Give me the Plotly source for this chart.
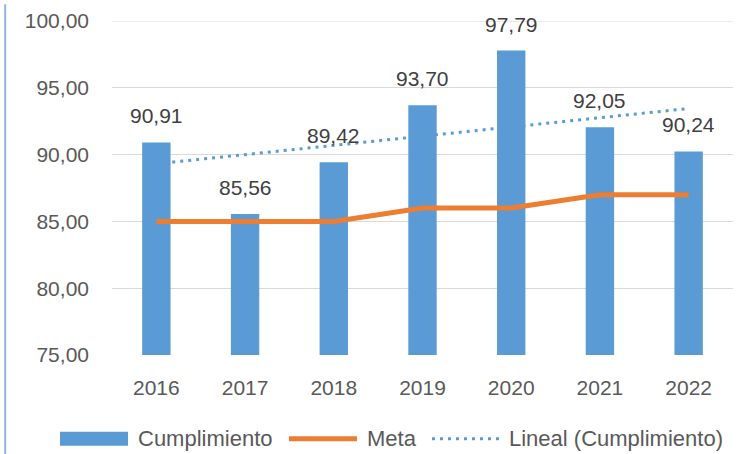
import plotly.graph_objects as go

years = ["2016", "2017", "2018", "2019", "2020", "2021", "2022"]
cumplimiento = [90.91, 85.56, 89.42, 93.70, 97.79, 92.05, 90.24]
meta = [85, 85, 85, 86, 86, 87, 87]
# linear trend of Cumplimiento
lineal = [89.31, 90.00, 90.69, 91.38, 92.07, 92.76, 93.45]

BLUE = "#5B9BD5"
ORANGE = "#ED7D31"
TXT = "#595959"
FONT = "Liberation Sans"
FS = 21

fig = go.Figure()

fig.add_trace(go.Scatter(x=years, y=lineal, mode="lines", name="Lineal (Cumplimiento)",
                         line=dict(color=BLUE, width=3, dash="3px,5px"), zorder=0))
fig.add_trace(go.Bar(x=years, y=cumplimiento, name="Cumplimiento",
                     marker=dict(color=BLUE, line=dict(width=0)), zorder=1))
fig.add_trace(go.Scatter(x=years, y=meta, mode="lines", name="Meta",
                         line=dict(color=ORANGE, width=5), zorder=2))

# value labels above the bars (x as category index)
for i, v in enumerate(cumplimiento):
    fig.add_annotation(x=i, y=v, text=f"{v:.2f}".replace(".", ","), showarrow=False,
                       yanchor="bottom", yshift=13, font=dict(size=FS, color="#404040", family=FONT))

fig.update_layout(
    width=742, height=454,
    margin=dict(l=112, r=9, t=16, b=99),
    paper_bgcolor="white", plot_bgcolor="white",
    separators=", ",
    bargap=0.68,
    showlegend=False,
    font=dict(family=FONT, size=FS, color=TXT),
)
fig.update_yaxes(range=[75, 100], dtick=5, tickformat=".2f", showgrid=True,
                 gridcolor="#D9D9D9", gridwidth=1, zeroline=False, showline=False,
                 ticks="", ticklabelstandoff=22, tickfont=dict(size=FS, color=TXT))
fig.update_xaxes(type="category", range=[-0.5, 6.5], showgrid=False, showline=True,
                 linecolor="#D9D9D9", linewidth=1,
                 ticks="", ticklabelstandoff=14, tickfont=dict(size=FS, color=TXT))

# top gridline at 100
fig.add_shape(type="line", xref="paper", yref="y", x0=0, x1=1, y0=100, y1=100,
              line=dict(color="#D9D9D9", width=1), layer="below")

# left border line of the picture
fig.add_shape(type="line", xref="paper", yref="paper", x0=-0.172, x1=-0.172, y0=-0.3, y1=1.05,
              line=dict(color="#8DB4E2", width=2))

# custom legend along the bottom
ly = -0.251
def px(x):
    return (x - 112) / 621

fig.add_shape(type="rect", xref="paper", yref="paper", x0=px(60), x1=px(128),
              y0=ly - 0.021, y1=ly + 0.021, fillcolor=BLUE, line=dict(width=0))
fig.add_shape(type="line", xref="paper", yref="paper", x0=px(289), x1=px(357), y0=ly, y1=ly,
              line=dict(color=ORANGE, width=5))
fig.add_shape(type="line", xref="paper", yref="paper", x0=px(432), x1=px(500), y0=ly, y1=ly,
              line=dict(color=BLUE, width=3, dash="3px,5px"))
for x0, label in [(136, "Cumplimiento"), (365, "Meta"), (507, "Lineal (Cumplimiento)")]:
    fig.add_annotation(xref="paper", yref="paper", x=px(x0), y=ly, xanchor="left", yanchor="middle",
                       text=label, showarrow=False, font=dict(size=22, color=TXT, family=FONT))

fig.write_html("out.html", config={"displayModeBar": False},
               post_script="document.body.style.margin='0';")
